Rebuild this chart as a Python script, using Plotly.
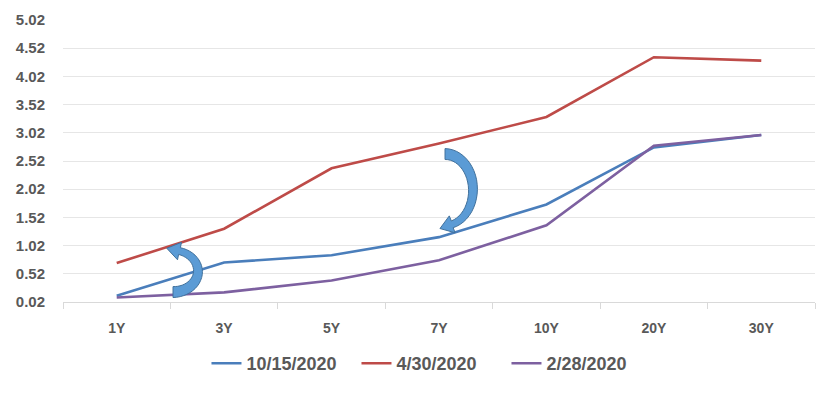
import math
import plotly.graph_objects as go

tenors = ["1Y", "3Y", "5Y", "7Y", "10Y", "20Y", "30Y"]
oct_15_2020 = [0.13, 0.72, 0.85, 1.17, 1.75, 2.76, 2.98]
apr_30_2020 = [0.71, 1.32, 2.39, 2.83, 3.30, 4.36, 4.30]
feb_28_2020 = [0.10, 0.19, 0.40, 0.76, 1.38, 2.79, 2.98]
series_names = ["10/15/2020", "4/30/2020", "2/28/2020"]
series_colors = ["#4A7EBB", "#BE4B48", "#7D60A0"]
y_ticks = [0.02, 0.52, 1.02, 1.52, 2.02, 2.52, 3.02, 3.52, 4.02, 4.52, 5.02]

W, H = 835, 394
ML, MR, MT, MB = 63, 20, 20, 90
PW, PH = W - ML - MR, H - MT - MB

fig = go.Figure()
for name, vals, col in zip(series_names, [oct_15_2020, apr_30_2020, feb_28_2020], series_colors):
    fig.add_trace(go.Scatter(x=tenors, y=vals, name=name, mode="lines",
                             line=dict(color=col, width=2.6)))


def to_paper(px, py):
    return (px - ML) / PW, (H - MB - py) / PH


def curved_arrow(cx, cy, rx, ry, head_at_top):
    n = 24
    if head_at_top:
        a0, a1 = 90, -75
    else:
        a0, a1 = -90, 75
    outer, inner = [], []
    for i in range(n + 1):
        t = i / n
        a = math.radians(a0 + (a1 - a0) * t)
        th = 11 - 4 * t
        outer.append((cx + (rx + th / 2) * math.cos(a), cy + (ry + th / 2) * math.sin(a)))
        inner.append((cx + (rx - th / 2) * math.cos(a), cy + (ry - th / 2) * math.sin(a)))
    a = math.radians(a1)
    ex, ey = cx + rx * math.cos(a), cy + ry * math.sin(a)
    sgn = -1 if head_at_top else 1
    tx, ty = -rx * math.sin(a) * sgn, ry * math.cos(a) * sgn
    L = math.hypot(tx, ty)
    tx, ty = tx / L, ty / L
    nx, ny = -ty, tx
    hw, hl = 9, 13
    b1 = (ex + nx * hw, ey + ny * hw)
    b2 = (ex - nx * hw, ey - ny * hw)
    tip = (ex + tx * hl, ey + ty * hl)
    o_end = outer[-1]
    d1 = math.hypot(b1[0] - o_end[0], b1[1] - o_end[1])
    d2 = math.hypot(b2[0] - o_end[0], b2[1] - o_end[1])
    bo, bi = (b1, b2) if d1 < d2 else (b2, b1)
    poly = outer + [bo, tip, bi] + list(reversed(inner))
    path = ""
    for k, (px, py) in enumerate(poly):
        x, y = to_paper(px, py)
        path += ("M" if k == 0 else "L") + f"{x:.4f},{y:.4f} "
    return path + "Z"


fig.add_shape(type="path", xref="paper", yref="paper",
              path=curved_arrow(173, 273, 25, 21, head_at_top=True),
              fillcolor="#5B9BD5", line=dict(color="#41719C", width=1))
fig.add_shape(type="path", xref="paper", yref="paper",
              path=curved_arrow(445, 191, 28, 36, head_at_top=False),
              fillcolor="#5B9BD5", line=dict(color="#41719C", width=1))

font_fam = "Liberation Sans, Arial, sans-serif"
fig.update_layout(
    width=W, height=H,
    margin=dict(l=ML, r=MR, t=MT, b=MB),
    paper_bgcolor="white", plot_bgcolor="white",
    font=dict(family=font_fam, size=14, color="#595959"),
    showlegend=True,
    legend=dict(orientation="h", x=0.49, xanchor="center", y=-0.218, yanchor="middle",
                font=dict(size=18, color="#595959", weight="bold"), itemwidth=30,
                entrywidth=105, entrywidthmode="pixels",
                traceorder="normal"),
    xaxis=dict(type="category", range=[-0.5, 6.5], showgrid=False, showline=True,
               linecolor="#D9D9D9", linewidth=1, ticks="outside", tickson="boundaries",
               ticklen=6, tickcolor="#D9D9D9", ticklabelstandoff=13,
               tickfont=dict(size=14, color="#595959", weight="bold"),
               zeroline=False),
    yaxis=dict(range=[0.02, 5.02], tickvals=y_ticks, ticktext=[f"{v:.2f}" for v in y_ticks],
               showgrid=True, gridcolor="#E6E6E6", gridwidth=1, showline=False,
               zeroline=False, ticks="", ticklabelstandoff=17,
               tickfont=dict(size=15, color="#595959", weight="bold")),
)

fig.write_html("out.html", config={"displayModeBar": False},
               post_script="document.body.style.margin='0';")
